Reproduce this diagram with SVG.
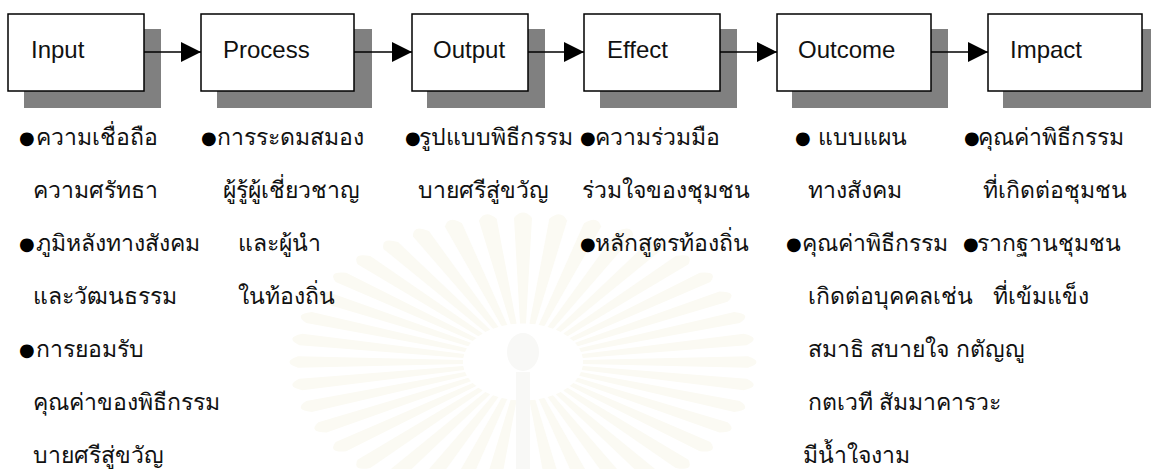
<svg xmlns="http://www.w3.org/2000/svg" xmlns:xlink="http://www.w3.org/1999/xlink" width="1151" height="469" viewBox="0 0 1151 469">
<style>
.box{fill:#fff;stroke:#000;stroke-width:1.5}
.shadow{fill:#808080}
.lbl{font-family:"Liberation Sans",Arial,sans-serif;font-size:24px;fill:#111}
.th{font-family:"Liberation Sans","DejaVu Sans","Noto Sans",sans-serif;font-size:23px;fill:#111}
.bul{font-family:"DejaVu Sans",sans-serif;font-size:18px;fill:#000}
.conn{stroke:#000;stroke-width:1.4;fill:none;marker-end:url(#arr)}
.ray{fill:#fbfaf3}
</style>
<defs>
<marker id="arr" markerUnits="userSpaceOnUse" markerWidth="21" markerHeight="21" refX="20" refY="10" orient="auto">
<path d="M0,0 L20,10 L0,20 Z" fill="#000"/>
</marker>
<path id="ray" d="M60,-3 L225,-9 Q242,0 225,9 L60,3 Z"/>
</defs>
<rect width="1151" height="469" fill="#fff"/>
<g id="watermark" class="ray" transform="translate(523,362) scale(1,0.64)">
<use xlink:href="#ray" transform="rotate(0)"/><use xlink:href="#ray" transform="rotate(9)"/><use xlink:href="#ray" transform="rotate(18)"/><use xlink:href="#ray" transform="rotate(27)"/><use xlink:href="#ray" transform="rotate(36)"/><use xlink:href="#ray" transform="rotate(45)"/><use xlink:href="#ray" transform="rotate(54)"/><use xlink:href="#ray" transform="rotate(63)"/><use xlink:href="#ray" transform="rotate(72)"/><use xlink:href="#ray" transform="rotate(81)"/><use xlink:href="#ray" transform="rotate(99)"/><use xlink:href="#ray" transform="rotate(108)"/><use xlink:href="#ray" transform="rotate(117)"/><use xlink:href="#ray" transform="rotate(126)"/><use xlink:href="#ray" transform="rotate(135)"/><use xlink:href="#ray" transform="rotate(144)"/><use xlink:href="#ray" transform="rotate(153)"/><use xlink:href="#ray" transform="rotate(162)"/><use xlink:href="#ray" transform="rotate(171)"/><use xlink:href="#ray" transform="rotate(180)"/><use xlink:href="#ray" transform="rotate(189)"/><use xlink:href="#ray" transform="rotate(198)"/><use xlink:href="#ray" transform="rotate(207)"/><use xlink:href="#ray" transform="rotate(216)"/><use xlink:href="#ray" transform="rotate(225)"/><use xlink:href="#ray" transform="rotate(234)"/><use xlink:href="#ray" transform="rotate(243)"/><use xlink:href="#ray" transform="rotate(252)"/><use xlink:href="#ray" transform="rotate(261)"/><use xlink:href="#ray" transform="rotate(270)"/><use xlink:href="#ray" transform="rotate(279)"/><use xlink:href="#ray" transform="rotate(288)"/><use xlink:href="#ray" transform="rotate(297)"/><use xlink:href="#ray" transform="rotate(306)"/><use xlink:href="#ray" transform="rotate(315)"/><use xlink:href="#ray" transform="rotate(324)"/><use xlink:href="#ray" transform="rotate(333)"/><use xlink:href="#ray" transform="rotate(342)"/><use xlink:href="#ray" transform="rotate(351)"/>
</g>
<g id="seal-core" fill="#f8f8f6">
<ellipse cx="523" cy="352" rx="16" ry="19"/>
<rect x="516" y="372" width="14" height="97"/>
</g>
<g id="node-input"><rect class="shadow" x="24" y="29" width="137" height="79"/><rect class="box" x="8" y="14" width="136" height="77"/><text class="lbl" x="31" y="58">Input</text></g>
<g id="node-process"><rect class="shadow" x="217" y="29" width="155" height="79"/><rect class="box" x="201" y="14" width="153" height="77"/><text class="lbl" x="223" y="58">Process</text></g>
<g id="node-output"><rect class="shadow" x="427" y="29" width="118" height="79"/><rect class="box" x="412" y="14" width="116" height="77"/><text class="lbl" x="433" y="58">Output</text></g>
<g id="node-effect"><rect class="shadow" x="600" y="29" width="137" height="79"/><rect class="box" x="584" y="14" width="136" height="77"/><text class="lbl" x="607" y="58">Effect</text></g>
<g id="node-outcome"><rect class="shadow" x="792" y="29" width="156" height="79"/><rect class="box" x="777" y="14" width="154" height="77"/><text class="lbl" x="798" y="58">Outcome</text></g>
<g id="node-impact"><rect class="shadow" x="1003" y="29" width="160" height="79"/><rect class="box" x="988" y="14" width="154" height="77"/><text class="lbl" x="1010" y="58">Impact</text></g>
<g id="connectors">
<line class="conn" x1="144" y1="52" x2="201" y2="52"/>
<line class="conn" x1="354" y1="52" x2="412" y2="52"/>
<line class="conn" x1="528" y1="52" x2="584" y2="52"/>
<line class="conn" x1="720" y1="52" x2="777" y2="52"/>
<line class="conn" x1="931" y1="52" x2="988" y2="52"/>
</g>
<g id="text-input">
<text class="bul" x="19" y="144">●</text><text class="th" x="36" y="145">ความเชื่อถือ</text>
<text class="th" x="33" y="198">ความศรัทธา</text>
<text class="bul" x="19" y="250">●</text><text class="th" x="36" y="251">ภูมิหลังทางสังคม</text>
<text class="th" x="33" y="304">และวัฒนธรรม</text>
<text class="bul" x="19" y="356">●</text><text class="th" x="36" y="357">การยอมรับ</text>
<text class="th" x="33" y="410">คุณค่าของพิธีกรรม</text>
<text class="th" x="33" y="463">บายศรีสู่ขวัญ</text>
</g>
<g id="text-process">
<text class="bul" x="201" y="144">●</text><text class="th" x="217" y="145">การระดมสมอง</text>
<text class="th" x="223" y="198">ผู้รู้ผู้เชี่ยวชาญ</text>
<text class="th" x="238" y="251">และผู้นำ</text>
<text class="th" x="238" y="304">ในท้องถิ่น</text>
</g>
<g id="text-output">
<text class="bul" x="405" y="144">●</text><text class="th" x="419" y="145">รูปแบบพิธีกรรม</text>
<text class="th" x="418" y="198">บายศรีสู่ขวัญ</text>
</g>
<g id="text-effect">
<text class="bul" x="580" y="144">●</text><text class="th" x="595" y="145">ความร่วมมือ</text>
<text class="th" x="582" y="198">ร่วมใจของชุมชน</text>
<text class="bul" x="580" y="250">●</text><text class="th" x="595" y="251">หลักสูตรท้องถิ่น</text>
</g>
<g id="text-outcome">
<text class="bul" x="795" y="144">●</text><text class="th" x="818" y="145">แบบแผน</text>
<text class="th" x="808" y="198">ทางสังคม</text>
<text class="bul" x="786" y="250">●</text><text class="th" x="802" y="251">คุณค่าพิธีกรรม</text>
<text class="th" x="808" y="304">เกิดต่อบุคคลเช่น</text>
<text class="th" x="808" y="357">สมาธิ สบายใจ กตัญญู</text>
<text class="th" x="808" y="410">กตเวที สัมมาคารวะ</text>
<text class="th" x="803" y="463">มีน้ำใจงาม</text>
</g>
<g id="text-impact">
<text class="bul" x="964" y="144">●</text><text class="th" x="978" y="145">คุณค่าพิธีกรรม</text>
<text class="th" x="983" y="198">ที่เกิดต่อชุมชน</text>
<text class="bul" x="963" y="250">●</text><text class="th" x="977" y="251">รากฐานชุมชน</text>
<text class="th" x="993" y="304">ที่เข้มแข็ง</text>
</g>
</svg>
